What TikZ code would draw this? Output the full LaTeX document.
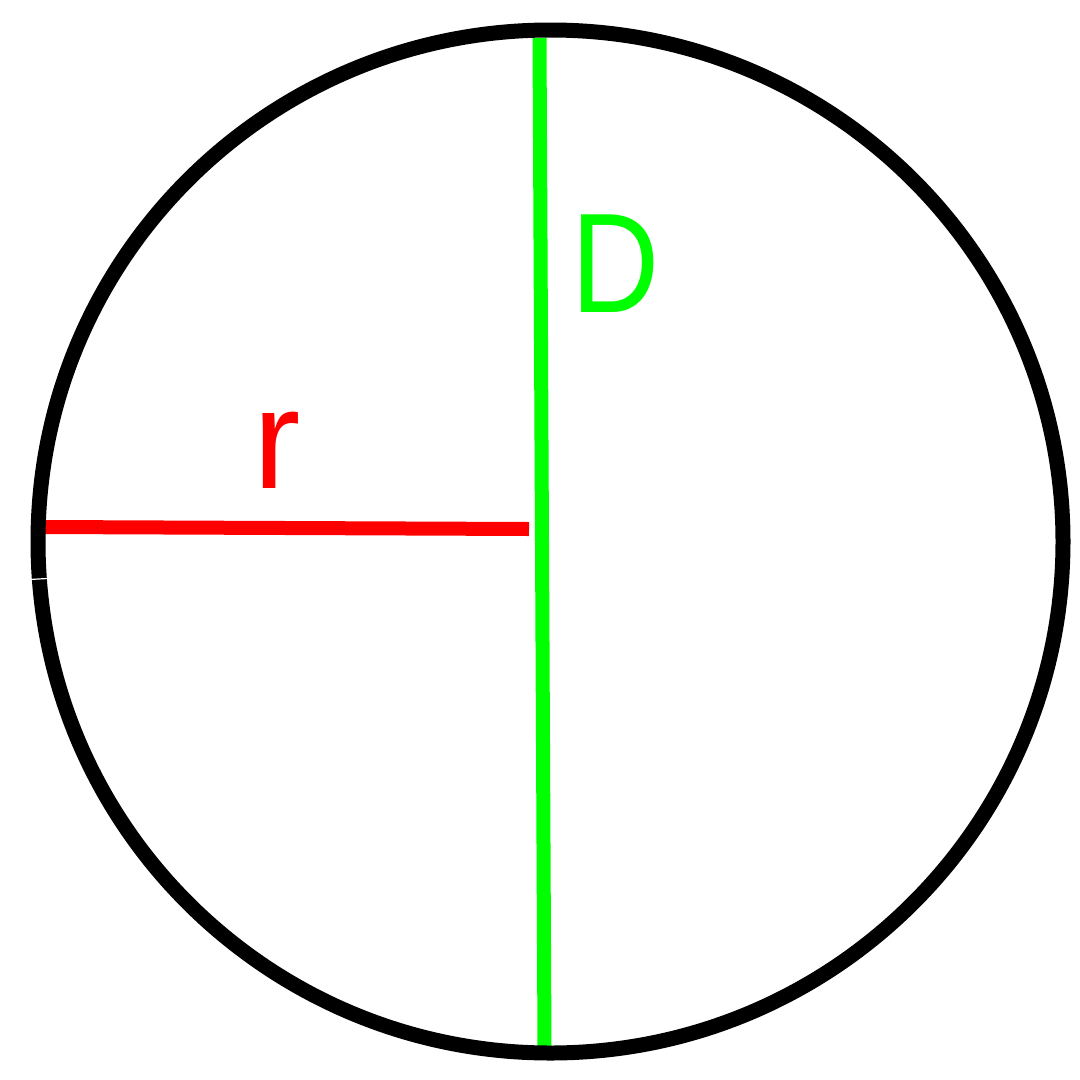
\documentclass[tikz,border=0pt]{standalone}
\usepackage{fontspec}
\setmainfont{Liberation Sans}
\begin{document}
\begin{tikzpicture}[x=1pt,y=-1pt,
  rim/.style={draw=black,line width=15pt},
  diam/.style={draw={rgb,255:red,0;green,255;blue,0},line width=14pt},
  rad/.style={draw={rgb,255:red,255;green,0;blue,0},line width=14pt},
  lbl/.style={inner sep=0pt,font=\fontsize{142}{142}\selectfont}]
\useasboundingbox (0,0) rectangle (1080,1080);
\fill[white] (0,0) rectangle (1080,1080);
\coordinate (c) at (550.5,541.5);
\coordinate (gt) at (539.5,38);
\coordinate (gb) at (544.5,1046);
\coordinate (rl) at (45,527);
\coordinate (rr) at (529,529);
\draw[diam] (gt) -- (gb);
\draw[rad] (rl) -- (rr);
\draw[rim] (c) ellipse [x radius=512.5, y radius=511.5];
\draw[white,line width=1.2pt] (30,579.5) -- (47,578.5);
\node[lbl,text={rgb,255:red,0;green,255;blue,0}] (D) at (616,264) {\scalebox{0.86}[1]{D}};
\node[lbl,text={rgb,255:red,255;green,0;blue,0}] (r) at (277,450) {r};
\end{tikzpicture}
\end{document}
